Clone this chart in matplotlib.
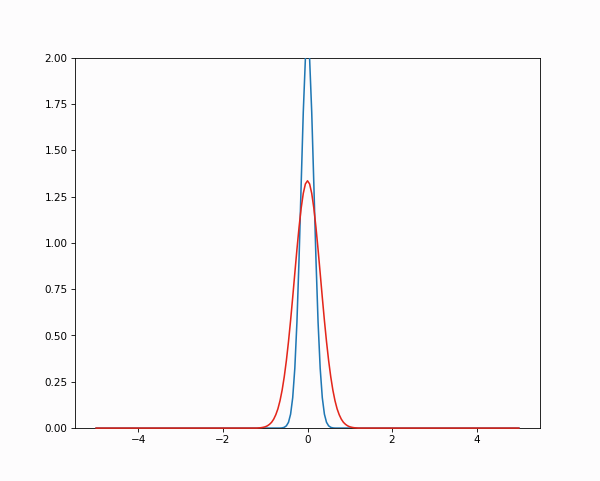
"""Two peaked curves on a shared x axis (narrow blue, wider red)."""

import matplotlib

matplotlib.use("Agg")
import matplotlib.pyplot as plt

BG = "#fdfcfd"

x_points = [
    -5.0,
    -1.20, -1.15, -1.10, -1.05, -1.00, -0.95, -0.90, -0.85, -0.80, -0.75,
    -0.70, -0.65, -0.60, -0.55, -0.50, -0.45, -0.40, -0.35, -0.30, -0.25,
    -0.20, -0.15, -0.10, -0.05, 0.00, 0.05, 0.10, 0.15, 0.20, 0.25,
    0.30, 0.35, 0.40, 0.45, 0.50, 0.55, 0.60, 0.65, 0.70, 0.75,
    0.80, 0.85, 0.90, 0.95, 1.00, 1.05, 1.10, 1.15, 1.20,
    5.0,
]

blue_half = [0.0] * 12 + [
    0.001, 0.004, 0.012, 0.031, 0.075, 0.164,
    0.323, 0.572, 0.913, 1.315, 1.705, 1.994,
]
blue_peak = 2.100
blue_values = [0.0] + blue_half + [blue_peak] + blue_half[::-1] + [0.0]

red_half = [
    0.000, 0.001, 0.002, 0.004, 0.007, 0.012, 0.020, 0.031,
    0.048, 0.072, 0.104, 0.148, 0.205, 0.277, 0.364, 0.466,
    0.581, 0.706, 0.836, 0.964, 1.084, 1.187, 1.267, 1.318,
]
red_peak = 1.335
red_values = [0.0] + red_half + [red_peak] + red_half[::-1] + [0.0]

fig, ax = plt.subplots(figsize=(8, 6.415), dpi=75)
fig.patch.set_facecolor(BG)
ax.set_facecolor(BG)

# lines above the spines, as in the reference where the red base covers the x axis
ax.plot(x_points, blue_values, color="#1f77b4", zorder=3)
# red stays below the top limit, so it can go unclipped and show its full base
ax.plot(x_points, red_values, color="#e3261b", zorder=3, clip_on=False)
ax.set_ylim(0, 2)

fig.savefig("out.png", dpi=75, facecolor=BG)
